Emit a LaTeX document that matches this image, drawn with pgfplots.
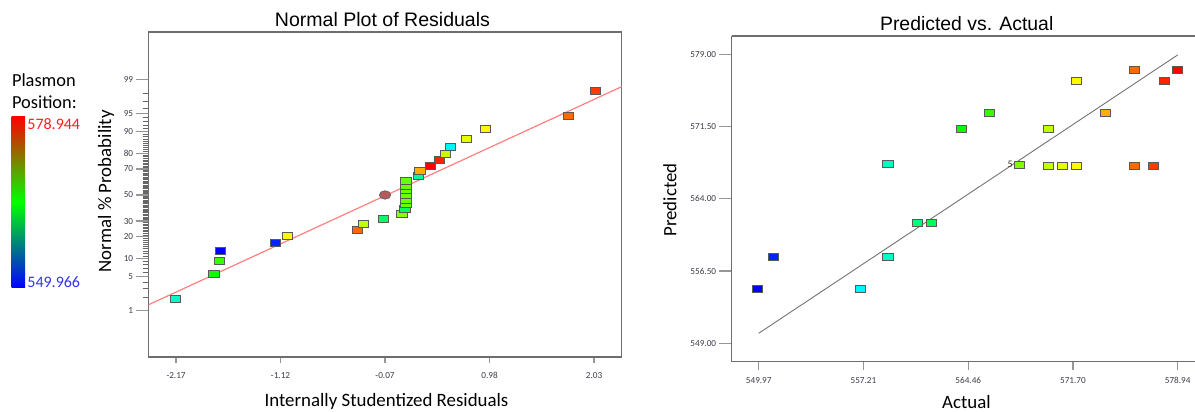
\documentclass[border=0pt]{standalone}
\usepackage{fontspec}
\setmainfont{Carlito}
\newfontfamily\arialf{Liberation Sans}
\usepackage{pgfplots}
\usepackage{pgfplotstable}
\pgfplotsset{compat=1.18}
\definecolor{tickgrey}{RGB}{150,150,150}
\definecolor{labgrey}{RGB}{60,60,75}
\definecolor{framegrey}{RGB}{110,110,110}
\definecolor{fitred}{RGB}{255,128,128}
\definecolor{meanbrown}{RGB}{180,90,90}
\definecolor{cbred}{RGB}{255,30,30}
\definecolor{cbblue}{RGB}{50,50,255}
\pgfplotsset{colormap={dex}{rgb255=(0,0,255) rgb255=(0,255,255) rgb255=(0,255,0) rgb255=(255,255,0) rgb255=(255,0,0)}}

% Normal plot: residual, normal quantile of (i-0.5)/27, plasmon position
\pgfplotstableread{
x z m
-2.18 -2.086 558.9
-1.79 -1.593 565.0
-1.735 -1.325 566.0
-1.72 -1.128 549.97
-1.17 -0.967 550.96
-1.05 -0.829 571.9
-0.35 -0.704 575.93
-0.29 -0.589 569.98
-0.09 -0.482 561.5
0.10 -0.380 568.5
0.13 -0.282 561.9
0.14 -0.187 567.5
0.14 -0.093 567.5
0.14 0 567.5
0.14 0.093 567.5
0.14 0.187 567.5
0.14 0.282 567.5
0.265 0.380 560.0
0.28 0.482 574.0
0.39 0.589 578.94
0.475 0.704 578.0
0.54 0.829 569.98
0.59 0.967 557.0
0.75 1.128 571.0
0.94 1.325 571.9
1.77 1.593 575.93
2.04 2.086 577.24
}\normaldata

% Predicted vs actual
\pgfplotstableread{
a p
549.87 554.67
550.96 557.93
557.00 554.67
558.91 557.93
560.97 561.46
561.89 561.46
558.91 567.64
563.98 571.20
565.92 572.90
568.02 567.48
569.98 571.20
569.98 567.44
570.99 567.44
571.92 567.44
571.92 576.20
573.97 572.94
575.93 577.40
575.93 567.44
577.24 567.44
578.00 576.20
578.92 577.40
}\pvadata

\pgfplotsset{
  common/.style={
    scale only axis,
    anchor=south west,
    colormap name=dex,
    point meta min=549.97, point meta max=578.94,
    tick align=outside,
    ticklabel style={font=\fontsize{4.6}{5}\selectfont, text=labgrey},
    tick style={color=tickgrey, line width=0.6pt},
    axis line style={color=framegrey, line width=0.7pt},
  },
  sq/.style={scatter, only marks, scatter src=explicit, mark=square*, mark size=1.75pt,
    mark options={xscale=1.45, line width=0.45pt},
    scatter/use mapped color={draw=black!65, fill=mapped color}},
}

\begin{document}
\begin{tikzpicture}
\useasboundingbox (0,0) rectangle (597.5pt,206pt);

% colour key
\node[anchor=west, font=\fontsize{9.2}{11}\selectfont, inner sep=0pt] at (5.8pt,166pt) {Plasmon};
\node[anchor=west, font=\fontsize{9.2}{11}\selectfont, inner sep=0pt] at (5.8pt,154.8pt) {Position:};
\shade[top color=red, bottom color=blue, middle color=green] (5.8pt,62.2pt) rectangle (12.5pt,147.6pt);
\node[anchor=west, font=\fontsize{8}{10}\selectfont, text=cbred, inner sep=0pt] at (13.5pt,144pt) {578.944};
\node[anchor=west, font=\fontsize{8}{10}\selectfont, text=cbblue, inner sep=0pt] at (13.5pt,65pt) {549.966};

% titles and axis labels
\node[anchor=base, font=\arialf\fontsize{9.77}{12}\selectfont, inner sep=0pt] at (191.25pt,192.65pt) {Normal Plot of Residuals};
\node[anchor=base, font=\arialf\fontsize{9.7}{12}\selectfont, inner sep=0pt] at (483.35pt,190.6pt) {Predicted vs. Actual};
\node[anchor=base, font=\fontsize{9.44}{11}\selectfont, inner sep=0pt] at (193.25pt,2.7pt) {Internally Studentized Residuals};
\node[anchor=base, font=\fontsize{9.44}{11}\selectfont, inner sep=0pt] at (483.25pt,1.7pt) {Actual};
\node[anchor=base, rotate=90, font=\fontsize{9.44}{11}\selectfont, inner sep=0pt] at (55.6pt,110.3pt) {Normal \% Probability};
\node[anchor=base, rotate=90, font=\fontsize{9.44}{11}\selectfont, inner sep=0pt] at (338.2pt,106pt) {Predicted};

% Normal plot of residuals
\begin{axis}[common,
  at={(74.35pt,27.5pt)}, width=236.5pt, height=162.5pt,
  xmin=-2.445, xmax=2.308, ymin=-3.26, ymax=3.28,
  xtick={-2.17,-1.12,-0.07,0.98,2.03},
  xticklabels={-2.17,-1.12,-0.07,0.98,2.03},
  ytick={-2.3263,-1.6449,-1.2816,-0.8416,-0.5244,0,0.5244,0.8416,1.2816,1.6449,2.3263},
  yticklabels={1,5,10,20,30,50,70,80,90,95,99},
  minor ytick={-2.0537,-1.8808,-1.7507,-1.5548,-1.4758,-1.4051,-1.3408,-1.2265,-1.1750,-1.1264,-1.0803,-1.0364,-0.9945,-0.9542,-0.9154,-0.8779,-0.8064,-0.7722,-0.7388,-0.7063,-0.6745,-0.6433,-0.6128,-0.5828,-0.5534,-0.4959,-0.4677,-0.4399,-0.4125,-0.3853,-0.3585,-0.3319,-0.3055,-0.2793,-0.2533,-0.2275,-0.2019,-0.1764,-0.1510,-0.1257,-0.1004,-0.0753,-0.0502,-0.0251,0.0251,0.0502,0.0753,0.1004,0.1257,0.1510,0.1764,0.2019,0.2275,0.2533,0.2793,0.3055,0.3319,0.3585,0.3853,0.4125,0.4399,0.4677,0.4959,0.5534,0.5828,0.6128,0.6433,0.6745,0.7063,0.7388,0.7722,0.8064,0.8779,0.9154,0.9542,0.9945,1.0364,1.0803,1.1264,1.1750,1.2265,1.3408,1.4051,1.4758,1.5548,1.7507,1.8808,2.0537},
  xtick pos=bottom, ytick pos=left,
  xtick style={/pgfplots/major tick length=2.8pt},
  ytick style={/pgfplots/major tick length=6.5pt},
  minor tick length=3pt,
  minor tick style={color=black!60, line width=0.35pt},
]
\addplot[color=fitred, line width=0.6pt] coordinates {(-2.445,-2.207) (2.308,2.18)};
\addplot[sq] table[x=x, y=z, meta=m] {\normaldata};
\addplot[only marks, mark=*, mark size=2.1pt, mark options={xscale=1.35, fill=meanbrown, draw=black!60, line width=0.4pt}] coordinates {(-0.07,0)};
\end{axis}

% Predicted vs actual
\begin{axis}[common,
  at={(365.85pt,25.15pt)}, width=231.65pt, height=162.85pt,
  xmin=548.10, xmax=580.14, ymin=547.09, ymax=580.9,
  axis x line*=box, axis y line*=left,
  xtick={549.97,557.21,564.46,571.70,578.94},
  xticklabels={549.97,557.21,564.46,571.70,578.94},
  ytick={549,556.5,564,571.5,579},
  yticklabels={549.00,556.50,564.00,571.50,579.00},
  xtick pos=bottom, ytick pos=left,
  xtick style={/pgfplots/major tick length=4pt},
  ytick style={/pgfplots/major tick length=6.5pt},
]
\addplot[color=black!55, line width=0.45pt] coordinates {(549.97,550.04) (578.94,578.93)};
\addplot[sq] table[x=a, y=p, meta=a] {\pvadata};
\node[font=\fontsize{5}{6}\selectfont, text=black!80, inner sep=0pt] at (axis cs:567.35,567.58) {5};
\end{axis}
\end{tikzpicture}
\end{document}
